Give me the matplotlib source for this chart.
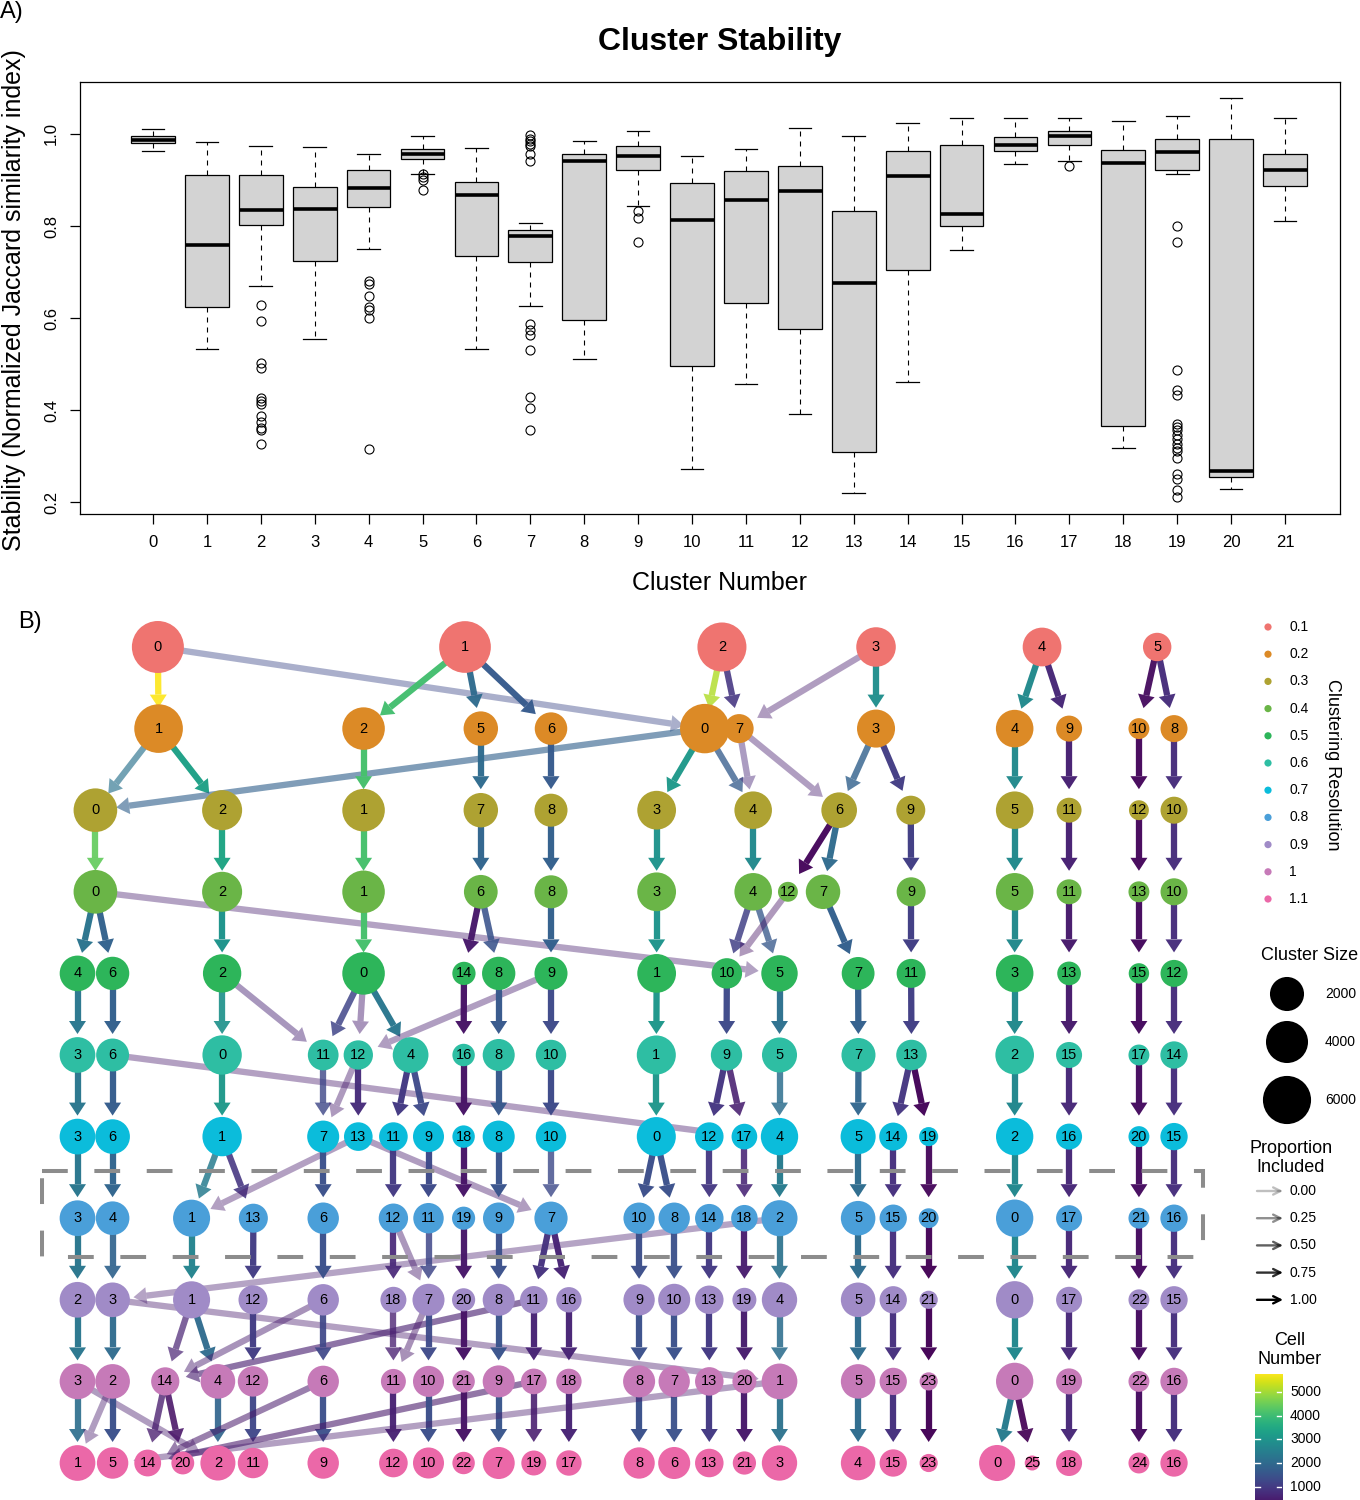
import numpy as np
import matplotlib
matplotlib.use("Agg")
import matplotlib.pyplot as plt
from matplotlib.patches import Circle, Polygon, Rectangle
from matplotlib.colors import Normalize

plt.rcParams['font.family'] = ['Liberation Sans', 'DejaVu Sans']

# ---------------- A) cluster stability, box statistics
box_clusters = list(range(22))
whisk_hi = [1.011, 0.983, 0.974, 0.971, 0.956, 0.995, 0.970, 0.807, 0.985, 1.007, 0.953,
            0.967, 1.012, 0.995, 1.023, 1.034, 1.034, 1.035, 1.029, 1.040, 1.078, 1.035]
box_q3 = [0.996, 0.911, 0.910, 0.885, 0.921, 0.968, 0.896, 0.791, 0.957, 0.973, 0.893,
          0.920, 0.931, 0.832, 0.963, 0.975, 0.993, 1.007, 0.965, 0.989, 0.989, 0.956]
box_med = [0.986, 0.758, 0.835, 0.838, 0.882, 0.957, 0.868, 0.779, 0.941, 0.953, 0.813,
           0.856, 0.877, 0.676, 0.908, 0.826, 0.975, 0.996, 0.936, 0.961, 0.268, 0.921]
box_q1 = [0.980, 0.625, 0.803, 0.723, 0.841, 0.946, 0.735, 0.721, 0.596, 0.921, 0.495,
          0.632, 0.576, 0.309, 0.704, 0.801, 0.964, 0.977, 0.365, 0.921, 0.254, 0.886]
whisk_lo = [0.962, 0.532, 0.670, 0.554, 0.751, 0.914, 0.532, 0.627, 0.511, 0.844, 0.271,
            0.457, 0.391, 0.219, 0.460, 0.747, 0.935, 0.941, 0.318, 0.913, 0.229, 0.810]
fliers = [
    [], [],
    [0.628, 0.594, 0.503, 0.492, 0.427, 0.420, 0.413, 0.386, 0.373, 0.362, 0.356, 0.327],
    [],
    [0.680, 0.675, 0.647, 0.623, 0.618, 0.601, 0.316],
    [0.914, 0.907, 0.901, 0.879],
    [],
    [0.997, 0.990, 0.985, 0.979, 0.973, 0.957, 0.942, 0.588, 0.573, 0.562, 0.530, 0.428, 0.404, 0.356],
    [],
    [0.832, 0.818, 0.765],
    [], [], [], [], [], [], [],
    [0.931],
    [],
    [0.801, 0.766, 0.486, 0.443, 0.432, 0.369, 0.363, 0.356, 0.346, 0.336, 0.326, 0.318,
     0.310, 0.296, 0.260, 0.250, 0.226, 0.211],
    [], [],
]

# ---------------- B) clustering tree
res_labels = ['0.1', '0.2', '0.3', '0.4', '0.5', '0.6', '0.7', '0.8', '0.9', '1', '1.1']
res_colors = ['#EF7470', '#DC8A26', '#AEA232', '#6AB547', '#2DB55A', '#2EBEA3',
              '#0BBCDB', '#4A9FD9', '#A08BC7', '#C67AB8', '#EB68A8']

node_ids = [
    [0, 1, 2, 3, 4, 5],
    [1, 2, 5, 6, 0, 7, 3, 4, 9, 10, 8],
    [0, 2, 1, 7, 8, 3, 4, 6, 9, 5, 11, 12, 10],
    [0, 2, 1, 6, 8, 3, 4, 12, 7, 9, 5, 11, 13, 10],
    [4, 6, 2, 0, 14, 8, 9, 1, 10, 5, 7, 11, 3, 13, 15, 12],
    [3, 6, 0, 11, 12, 4, 16, 8, 10, 1, 9, 5, 7, 13, 2, 15, 17, 14],
    [3, 6, 1, 7, 13, 11, 9, 18, 8, 10, 0, 12, 17, 4, 5, 14, 19, 2, 16, 20, 15],
    [3, 4, 1, 13, 6, 12, 11, 19, 9, 7, 10, 8, 14, 18, 2, 5, 15, 20, 0, 17, 21, 16],
    [2, 3, 1, 12, 6, 18, 7, 20, 8, 11, 16, 9, 10, 13, 19, 4, 5, 14, 21, 0, 17, 22, 15],
    [3, 2, 14, 4, 12, 6, 11, 10, 21, 9, 17, 18, 8, 7, 13, 20, 1, 5, 15, 23, 0, 19, 22, 16],
    [1, 5, 14, 20, 2, 11, 9, 12, 10, 22, 7, 19, 17, 8, 6, 13, 21, 3, 4, 15, 23, 0, 25, 18, 24, 16],
]
node_cells = [
    [7480, 7360, 6330, 3300, 3090, 1000],
    [6180, 4150, 2080, 1690, 6475, 1090, 2910, 2790, 680, 210, 805],
    [4490, 3430, 4150, 2080, 1790, 3090, 2790, 2340, 1090, 2790, 560, 150, 805],
    [4490, 3430, 4150, 1930, 1790, 3090, 2790, 150, 2080, 1090, 2790, 560, 210, 805],
    [2340, 1850, 2990, 4150, 390, 1850, 1790, 3090, 1320, 2520, 1750, 1090, 2790, 430, 180, 805],
    [2360, 1770, 3250, 1370, 1140, 2360, 320, 1600, 1320, 3170, 1470, 2210, 1990, 1330, 3060,
     680, 210, 845],
    [2360, 2120, 3250, 1600, 1030, 1030, 1420, 320, 1600, 1320, 3170, 1015, 640, 2740, 2210,
     940, 110, 2740, 680, 210, 845],
    [2360, 1910, 2670, 1090, 1490, 1140, 1320, 380, 1490, 1830, 1470, 1470, 1015, 740, 2430,
     2100, 845, 146, 2740, 680, 210, 845],
    [2360, 2120, 2670, 1090, 1490, 680, 1600, 380, 1600, 870, 610, 1470, 1600, 1015, 460,
     2270, 2100, 845, 75, 2740, 680, 210, 845],
    [2360, 2120, 970, 2120, 1320, 1490, 560, 1420, 320, 1600, 640, 610, 1600, 1470, 1015,
     460, 2360, 2100, 845, 75, 2740, 680, 210, 845],
    [2360, 1490, 780, 355, 2210, 1320, 1490, 1030, 1420, 320, 1600, 560, 610, 1470, 1600,
     1015, 390, 2270, 2100, 845, 75, 2430, 20, 680, 210, 845],
]
# tree layout columns (left to right) of each node
layout_x = [
    [2.29, 11.04, 18.36, 22.75, 27.48, 30.76],
    [2.31, 8.15, 11.49, 13.49, 17.87, 18.85, 22.75, 26.7, 28.25, 30.24, 31.24],
    [0.51, 4.12, 8.15, 11.49, 13.49, 16.5, 19.25, 21.7, 23.74, 26.7, 28.25, 30.24, 31.24],
    [0.51, 4.12, 8.15, 11.49, 13.49, 16.5, 19.25, 20.24, 21.24, 23.75, 26.7, 28.25, 30.24, 31.24],
    [0, 1, 4.12, 8.15, 11.01, 12, 13.49, 16.5, 18.5, 20, 22.24, 23.75, 26.7, 28.25, 30.24, 31.24],
    [0, 1, 4.12, 7, 8, 9.49, 11, 12, 13.49, 16.49, 18.49, 20, 22.25, 23.76, 26.7, 28.25, 30.24, 31.24],
    [0, 1, 4.12, 7, 8, 9, 10, 11, 12, 13.49, 16.49, 18, 19, 20, 22.24, 23.24, 24.25, 26.7,
     28.25, 30.24, 31.24],
    [0, 1, 3.25, 5.01, 7, 9, 10, 11, 12, 13.49, 16, 17, 18, 19, 20, 22.24, 23.24, 24.25, 26.7,
     28.25, 30.24, 31.24],
    [0, 1, 3.25, 5, 7, 9, 10, 11, 12, 13, 14, 16, 17, 18, 19, 20, 22.24, 23.24, 24.25, 26.7,
     28.25, 30.24, 31.24],
    [0, 1, 2.5, 4, 5, 7, 9, 10, 11, 12, 13, 14, 16, 17, 18, 19, 20, 22.24, 23.24, 24.25, 26.7,
     28.25, 30.24, 31.24],
    [0, 1, 2, 3, 4, 5, 7, 9, 10, 11, 12, 13, 14, 16, 17, 18, 19, 20, 22.24, 23.24, 24.25, 26.2,
     27.2, 28.25, 30.24, 31.24],
]

# edges between consecutive resolutions: (from cluster, to cluster, cells, proportion included)
links_01 = [(0, 1, 5760, 0.93), (0, 0, 1300, 0.25), (1, 2, 4050, 0.97), (1, 5, 2000, 0.96),
            (1, 6, 1650, 0.97), (2, 0, 5100, 0.78), (2, 7, 900, 0.85), (3, 7, 450, 0.24),
            (3, 3, 2850, 0.97), (4, 4, 2750, 0.98), (4, 9, 670, 0.98), (5, 10, 200, 0.95),
            (5, 8, 780, 0.97)]
links_02 = [(1, 0, 2200, 0.55), (1, 2, 3300, 0.98), (0, 0, 1800, 0.5), (2, 1, 4100, 0.99),
            (5, 7, 2000, 0.97), (6, 8, 1650, 0.97), (0, 3, 3100, 0.97), (0, 4, 1700, 0.7),
            (7, 4, 650, 0.28), (7, 6, 500, 0.24), (3, 6, 1800, 0.75), (3, 9, 1050, 0.97),
            (4, 5, 2750, 0.98), (9, 11, 550, 0.98), (10, 12, 150, 0.97), (8, 10, 780, 0.97)]
links_03 = [(0, 0, 4400, 0.9), (2, 2, 3400, 0.99), (1, 1, 4100, 0.99), (7, 6, 1900, 0.98),
            (8, 8, 1750, 0.98), (3, 3, 3000, 0.97), (4, 4, 2750, 0.98), (6, 12, 150, 0.97),
            (6, 7, 2000, 0.96), (9, 9, 1080, 0.99), (5, 5, 2750, 0.99), (11, 11, 550, 0.98),
            (12, 13, 150, 0.97), (10, 10, 780, 0.97)]
links_04 = [(0, 4, 2250, 0.98), (0, 6, 1800, 0.97), (0, 5, 500, 0.22), (2, 2, 3000, 0.99),
            (1, 0, 4100, 0.99), (6, 14, 380, 0.97), (6, 8, 1500, 0.85), (8, 9, 1750, 0.98),
            (3, 1, 3000, 0.98), (4, 10, 1100, 0.8), (4, 5, 1600, 0.7), (12, 10, 300, 0.24),
            (7, 7, 1750, 0.98), (9, 11, 1080, 0.99), (5, 3, 2750, 0.99), (11, 13, 430, 0.98),
            (13, 15, 180, 0.98), (10, 12, 780, 0.97)]
links_05 = [(4, 3, 2300, 0.97), (6, 6, 1750, 0.98), (2, 0, 2950, 0.9), (2, 11, 600, 0.3),
            (0, 11, 1200, 0.8), (0, 12, 500, 0.3), (0, 4, 2300, 0.97), (9, 12, 500, 0.24),
            (14, 16, 320, 0.98), (8, 8, 1600, 0.98), (9, 10, 1300, 0.97), (1, 1, 3050, 0.98),
            (10, 9, 1300, 0.97), (5, 5, 2150, 0.97), (7, 7, 1750, 0.98), (11, 13, 1080, 0.98),
            (3, 2, 2750, 0.99), (13, 15, 430, 0.98), (15, 17, 180, 0.98), (12, 14, 780, 0.97)]
links_06 = [(3, 3, 2300, 0.98), (6, 6, 1700, 0.98), (6, 17, 450, 0.22), (0, 1, 3100, 0.97),
            (11, 7, 1250, 0.75), (12, 7, 450, 0.26), (12, 13, 750, 0.97), (4, 11, 1000, 0.98),
            (4, 9, 1300, 0.95), (16, 18, 320, 0.98), (8, 8, 1600, 0.98), (10, 10, 1300, 0.98),
            (1, 0, 3050, 0.97), (9, 12, 900, 0.96), (9, 17, 500, 0.85), (5, 4, 2100, 0.8),
            (7, 5, 1900, 0.95), (13, 14, 900, 0.96), (13, 19, 110, 0.98), (2, 2, 2700, 0.99),
            (15, 16, 650, 0.98), (17, 20, 200, 0.98), (14, 15, 800, 0.97)]
links_07 = [(3, 3, 2300, 0.98), (6, 4, 1900, 0.98), (1, 1, 2400, 0.8), (1, 13, 900, 0.85),
            (13, 1, 450, 0.22), (7, 6, 1450, 0.97), (13, 7, 450, 0.24), (11, 12, 1000, 0.97),
            (9, 11, 1300, 0.98), (18, 19, 320, 0.97), (8, 9, 1500, 0.98), (10, 7, 1300, 0.75),
            (0, 10, 1400, 0.97), (0, 8, 1450, 0.97), (12, 14, 950, 0.95), (17, 18, 600, 0.85),
            (4, 2, 2400, 0.98), (5, 5, 2050, 0.98), (14, 15, 820, 0.97), (19, 20, 110, 0.95),
            (2, 0, 2700, 0.99), (16, 17, 650, 0.98), (20, 21, 200, 0.98), (15, 16, 800, 0.97)]
links_08 = [(3, 2, 2300, 0.98), (4, 3, 1850, 0.9), (2, 3, 450, 0.2), (1, 1, 2600, 0.97),
            (13, 12, 1050, 0.97), (6, 6, 1450, 0.97), (12, 18, 650, 0.9), (12, 7, 450, 0.28),
            (11, 7, 1250, 0.8), (19, 20, 370, 0.97), (9, 8, 1450, 0.97), (7, 11, 850, 0.97),
            (7, 16, 600, 0.97), (10, 9, 1400, 0.97), (8, 10, 1450, 0.95), (14, 13, 1000, 0.97),
            (18, 19, 450, 0.95), (2, 4, 2200, 0.9), (5, 5, 2050, 0.98), (15, 14, 820, 0.97),
            (20, 21, 75, 0.97), (0, 0, 2700, 0.99), (17, 17, 650, 0.97), (21, 22, 200, 0.98),
            (16, 15, 820, 0.97)]
links_09 = [(2, 3, 2300, 0.97), (3, 2, 2000, 0.95), (3, 1, 450, 0.22), (1, 14, 550, 0.6),
            (1, 4, 2000, 0.95), (6, 14, 450, 0.3), (11, 14, 500, 0.5), (12, 12, 1050, 0.97),
            (6, 6, 1250, 0.9), (18, 11, 500, 0.7), (7, 11, 400, 0.3), (7, 10, 1300, 0.95),
            (20, 21, 320, 0.98), (8, 9, 1500, 0.97), (11, 17, 600, 0.97), (16, 18, 600, 0.97),
            (9, 8, 1450, 0.97), (10, 7, 1450, 0.97), (13, 13, 1000, 0.98), (19, 20, 450, 0.97),
            (4, 1, 2100, 0.85), (5, 5, 2050, 0.98), (14, 15, 820, 0.97), (21, 23, 75, 0.98),
            (0, 0, 2700, 0.99), (17, 19, 650, 0.97), (22, 22, 200, 0.98), (15, 16, 820, 0.97)]
links_10 = [(3, 1, 2100, 0.9), (3, 2, 450, 0.24), (2, 1, 450, 0.24), (2, 5, 1450, 0.97),
            (14, 14, 450, 0.7), (14, 20, 330, 0.85), (4, 2, 1900, 0.9), (12, 11, 1250, 0.95),
            (6, 14, 400, 0.4), (6, 9, 1400, 0.95), (17, 14, 400, 0.45), (11, 12, 550, 0.95),
            (10, 10, 1400, 0.97), (21, 22, 310, 0.97), (9, 7, 1550, 0.97), (17, 19, 450, 0.85),
            (18, 17, 600, 0.97), (8, 8, 1450, 0.98), (7, 6, 1450, 0.95), (13, 13, 1000, 0.98),
            (20, 21, 380, 0.97), (1, 3, 2200, 0.95), (1, 5, 450, 0.22), (5, 4, 2050, 0.98),
            (15, 15, 820, 0.98), (23, 23, 75, 0.98), (0, 0, 2400, 0.98), (0, 25, 20, 0.9),
            (19, 18, 650, 0.97), (22, 24, 200, 0.98), (16, 16, 820, 0.98)]
links = [links_01, links_02, links_03, links_04, links_05,
         links_06, links_07, links_08, links_09, links_10]

size_breaks = [2000, 4000, 6000]
prop_breaks = [0.0, 0.25, 0.5, 0.75, 1.0]
cell_breaks = [1000, 2000, 3000, 4000, 5000]
edge_vmin, edge_vmax = 20, 5760

# ------------------------------------------------------------------ figure
W, H = 1360, 1500
fig = plt.figure(figsize=(W / 100, H / 100), dpi=100, facecolor='white')

# ---- panel A
axa = fig.add_axes([80 / W, 1 - 514 / H, 1260 / W, 432 / H])
stats = [dict(med=box_med[i], q1=box_q1[i], q3=box_q3[i], whislo=whisk_lo[i],
              whishi=whisk_hi[i], fliers=fliers[i]) for i in range(len(box_clusters))]
axa.bxp(stats, positions=box_clusters, widths=0.81, capwidths=0.42, patch_artist=True,
        boxprops=dict(facecolor='#d3d3d3', edgecolor='black', linewidth=0.9),
        medianprops=dict(color='black', linewidth=2.6, solid_capstyle='butt'),
        whiskerprops=dict(color='black', linewidth=0.8, linestyle=(0, (4.5, 4.5))),
        capprops=dict(color='black', linewidth=0.9),
        flierprops=dict(marker='o', markerfacecolor='none', markeredgecolor='black',
                        markersize=6.5, markeredgewidth=0.8))
axa.set_xlim(-1.354, 22.02)
axa.set_ylim(0.174, 1.113)
axa.set_xticks(box_clusters)
axa.set_xticklabels([str(c) for c in box_clusters])
axa.set_yticks([0.2, 0.4, 0.6, 0.8, 1.0])
axa.set_yticklabels(['0.2', '0.4', '0.6', '0.8', '1.0'], rotation=90, va='center')
axa.tick_params(axis='x', length=7, width=0.9, pad=8, labelsize=12)
axa.tick_params(axis='y', length=7, width=0.9, pad=8, labelsize=12)
for s in axa.spines.values():
    s.set_linewidth(0.9)

fig.text(720 / W, 1 - 42 / H, 'Cluster Stability', ha='center', va='center',
         fontsize=23, fontweight='bold')
fig.text(720 / W, 1 - 583 / H, 'Cluster Number', ha='center', va='center', fontsize=18)
fig.text(14 / W, 1 - 300 / H, 'Stability (Normalized Jaccard similarity index)',
         ha='center', va='center', rotation=90, fontsize=18)
fig.text(0 / W, 1 - 12 / H, 'A)', ha='left', va='center', fontsize=17)
fig.text(18 / W, 1 - 622 / H, 'B)', ha='left', va='center', fontsize=17)

# ---- panel B (axes in pixel units)
axb = fig.add_axes([40 / W, 0, 1170 / W, 890 / H])
axb.set_xlim(40, 1210)
axb.set_ylim(1500, 610)
axb.axis('off')


def col_px(u):
    return 77.5 + 35.1 * u


def row_px(level):
    return 647 + 81.6 * level


n_lo = min(min(c) for c in node_cells)
n_hi = max(max(c) for c in node_cells)


def node_diam(n):
    return 15 + 37 * np.sqrt((n - n_lo) / (n_hi - n_lo))


norm = Normalize(edge_vmin, edge_vmax)
cmap = plt.get_cmap('viridis')
END_CAP = 21  # arrows stop at a fixed distance from the target centre


def draw_edge(ax, xa, ya, xb, yb, color, lw_px=6.3, head_len=13.0, head_half=8.5):
    dx, dy = xb - xa, yb - ya
    L = np.hypot(dx, dy)
    ux, uy = dx / L, dy / L
    tip = (xb - ux * END_CAP, yb - uy * END_CAP)
    base = (tip[0] - ux * head_len, tip[1] - uy * head_len)
    ax.plot([xa, base[0]], [ya, base[1]], color=color, lw=lw_px * 0.72,
            solid_capstyle='butt', zorder=1)
    px, py = -uy, ux
    ax.add_patch(Polygon([tip, (base[0] + px * head_half, base[1] + py * head_half),
                          (base[0] - px * head_half, base[1] - py * head_half)],
                         closed=True, facecolor=color, edgecolor='none', zorder=1))


pos = []
for lev in range(len(node_ids)):
    d = {}
    for cid, u, n in zip(node_ids[lev], layout_x[lev], node_cells[lev]):
        d[cid] = (col_px(u), row_px(lev), node_diam(n) / 2)
    pos.append(d)

for lev, lk in enumerate(links):
    for src, dst, n, p in lk:
        xa, ya, _ = pos[lev][src]
        xb, yb, _ = pos[lev + 1][dst]
        col = list(cmap(norm(n)))
        col[3] = 0.25 + 0.75 * p
        draw_edge(axb, xa, ya, xb, yb, tuple(col))

axb.add_patch(Rectangle((42, 1171), 1161, 86, fill=False, edgecolor='#8c8c8c', lw=2.9,
                        linestyle=(0, (6.4, 6.6)), zorder=2))

for lev in range(len(node_ids)):
    for cid in node_ids[lev]:
        x, y, r = pos[lev][cid]
        axb.add_patch(Circle((x, y), r, facecolor=res_colors[lev], edgecolor='none', zorder=3))
        axb.text(x, y, str(cid), ha='center', va='center', fontsize=10.5, zorder=4)

# ---- legends (pixel overlay)
lax = fig.add_axes([0, 0, 1, 1])
lax.set_xlim(0, W)
lax.set_ylim(H, 0)
lax.axis('off')

for i, (lab, c) in enumerate(zip(res_labels, res_colors)):
    y = 627 + 27.2 * i
    lax.add_patch(Circle((1268, y), 3.6, facecolor=c, edgecolor='none'))
    lax.text(1289, y, lab, ha='left', va='center', fontsize=10)
lax.text(1332, 765, 'Clustering Resolution', rotation=270, ha='center', va='center',
         fontsize=13)

lax.text(1310, 955, 'Cluster Size', ha='center', va='center', fontsize=13)
for n, y in zip(size_breaks, [994, 1042, 1100]):
    lax.add_patch(Circle((1287, y), node_diam(n) / 2, facecolor='black', edgecolor='none'))
    lax.text(1325, y, str(n), ha='left', va='center', fontsize=10)

lax.text(1291, 1158, 'Proportion\nIncluded', ha='center', va='center', fontsize=13,
         linespacing=1.15)
for i, p in enumerate(prop_breaks):
    y = 1191 + 27.2 * i
    lax.annotate('', xy=(1283, y), xytext=(1257, y),
                 arrowprops=dict(arrowstyle='->', lw=1.7, color=(0, 0, 0, 0.25 + 0.75 * p),
                                 mutation_scale=13, shrinkA=0, shrinkB=0))
    lax.text(1290, y, '%.2f' % p, ha='left', va='center', fontsize=10)

lax.text(1290, 1350, 'Cell\nNumber', ha='center', va='center', fontsize=13, linespacing=1.15)
cax = fig.add_axes([1255 / W, 0, 27 / W, 126 / H])
grad = np.linspace(edge_vmin, edge_vmax, 256).reshape(-1, 1)
cax.imshow(grad, extent=[0, 1, edge_vmin, edge_vmax], origin='lower', aspect='auto',
           cmap=cmap, norm=norm)
cax.set_xlim(0, 1)
cax.set_ylim(450, edge_vmax)
cax.axis('off')
for v in cell_breaks:
    cax.plot([0, 0.2], [v, v], color='white', lw=1)
    cax.plot([0.8, 1], [v, v], color='white', lw=1)
    cax.text(1.3, v, str(v), ha='left', va='center', fontsize=10, clip_on=False)

fig.savefig('out.png', dpi=100)
